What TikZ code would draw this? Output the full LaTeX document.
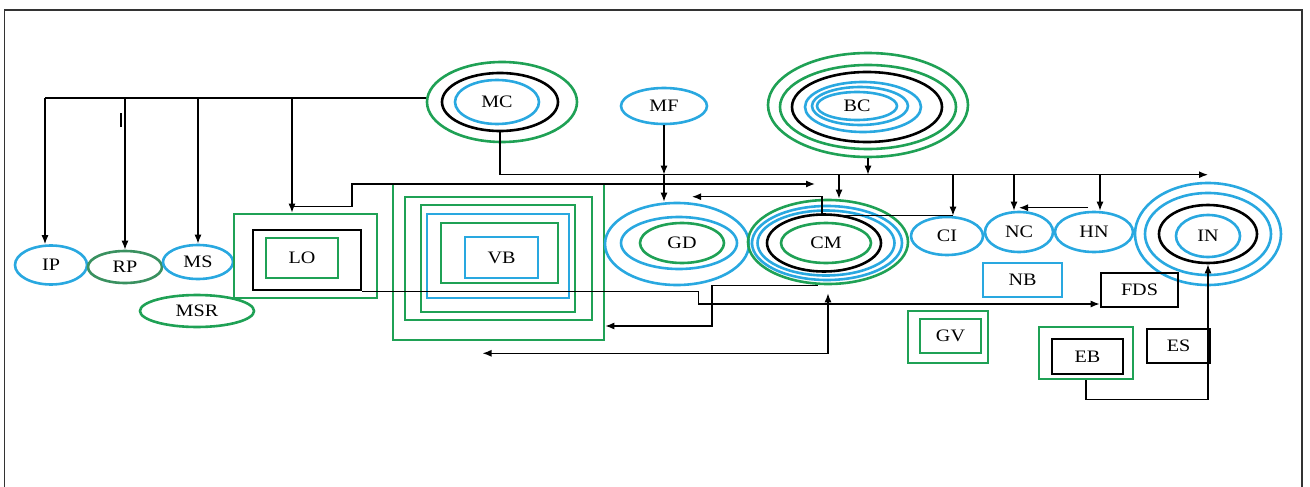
\documentclass[tikz,border=0pt]{standalone}
\usepackage{fontspec}
\setmainfont{Liberation Serif}[FakeStretch=1.15]
\usetikzlibrary{arrows.meta,shapes.geometric}
\definecolor{Sky}{HTML}{29A8E0}
\definecolor{Leaf}{HTML}{1FA155}
\definecolor{Moss}{HTML}{3A9160}
\definecolor{Frame}{HTML}{333333}

\begin{document}
\begin{tikzpicture}[x=1pt, y=-1pt, >=Latex,
    oval/.style={ellipse, draw=#1, line width=2.6pt, inner sep=0pt, font=\fontsize{17.5}{20}\selectfont},
    box/.style={rectangle, draw=#1, line width=2.6pt, inner sep=0pt, font=\fontsize{17.5}{20}\selectfont},
    wire/.style={line width=1.3pt},
    link/.style={line width=1.3pt, -{Latex[length=9pt,width=7pt]}},
    pair/.style={line width=1.3pt, {Latex[length=9pt,width=7pt]}-{Latex[length=9pt,width=7pt]}}]
    \useasboundingbox (0,0) rectangle (1310,487);
    \draw[line width=1.4pt, draw=Frame] (4.5,487) -- (4.5,10) -- (1302,10) -- (1302,487);

    \node[oval=Sky, minimum width=72pt, minimum height=39pt] (ip) at (51,265) {IP};
    \node[oval=Moss, minimum width=74pt, minimum height=32pt] (rp) at (125,267) {RP};
    \node[oval=Sky, minimum width=70pt, minimum height=34pt] (ms) at (198,262) {MS};
    \node[oval=Leaf, minimum width=114pt, minimum height=32pt] (msr) at (197,311) {MSR};

    \node[box=Leaf, minimum width=143pt, minimum height=84pt] (lo-3) at (305.5,256) {};
    \node[box=black, minimum width=108pt, minimum height=60pt] (lo-2) at (307,260) {};
    \node[box=Leaf, minimum width=72pt, minimum height=40pt] (lo) at (302,258) {LO};

    \node[box=Leaf, minimum width=211pt, minimum height=156pt] (vb-6) at (498.5,262) {};
    \node[box=Leaf, minimum width=187pt, minimum height=123pt] (vb-5) at (498.5,258.5) {};
    \node[box=Leaf, minimum width=154pt, minimum height=107pt] (vb-4) at (498,258.5) {};
    \node[box=Sky, minimum width=142pt, minimum height=84pt] (vb-3) at (498,256) {};
    \node[box=Leaf, minimum width=117pt, minimum height=60pt] (vb-2) at (499.5,253) {};
    \node[box=Sky, minimum width=73pt, minimum height=41pt] (vb) at (501.5,257.5) {VB};

    \node[oval=Leaf, minimum width=150pt, minimum height=80pt] (mc-3) at (502,102) {};
    \node[oval=black, minimum width=116pt, minimum height=58pt] (mc-2) at (500,102) {};
    \node[oval=Sky, minimum width=84pt, minimum height=44pt] (mc) at (497,102) {MC};

    \node[oval=Sky, minimum width=86pt, minimum height=36pt] (mf) at (664,106) {MF};

    \node[oval=Sky, minimum width=144pt, minimum height=82pt] (gd-3) at (677,244) {};
    \node[oval=Sky, minimum width=116pt, minimum height=52pt] (gd-2) at (679,243) {};
    \node[oval=Leaf, minimum width=84pt, minimum height=40pt] (gd) at (682,243) {GD};

    \node[oval=Leaf, minimum width=200pt, minimum height=104pt] (bc-6) at (868,105) {};
    \node[oval=Leaf, minimum width=176pt, minimum height=84pt] (bc-5) at (868,107) {};
    \node[oval=black, minimum width=150pt, minimum height=70pt] (bc-4) at (867,107) {};
    \node[oval=Sky, minimum width=116pt, minimum height=50pt] (bc-3) at (863,107) {};
    \node[oval=Sky, minimum width=96pt, minimum height=38pt] (bc-2) at (860,106) {};
    \node[oval=Sky, minimum width=80pt, minimum height=28pt] (bc) at (857,106) {BC};

    \node[oval=Leaf, minimum width=160pt, minimum height=84pt] (cm-5) at (828,242) {};
    \node[oval=Sky, minimum width=150pt, minimum height=74pt] (cm-4) at (827,243) {};
    \node[oval=Sky, minimum width=137pt, minimum height=65pt] (cm-3) at (826,243) {};
    \node[oval=black, minimum width=114pt, minimum height=57pt] (cm-2) at (824,243) {};
    \node[oval=Leaf, minimum width=90pt, minimum height=40pt] (cm) at (826,243) {CM};

    \node[oval=Sky, minimum width=72pt, minimum height=38pt] (ci) at (947,236) {CI};
    \node[oval=Sky, minimum width=68pt, minimum height=40pt] (nc) at (1019,232) {NC};
    \node[oval=Sky, minimum width=78pt, minimum height=40pt] (hn) at (1094,232) {HN};

    \node[oval=Sky, minimum width=146pt, minimum height=102pt] (in-4) at (1208,234) {};
    \node[oval=Sky, minimum width=126pt, minimum height=82pt] (in-3) at (1208,234) {};
    \node[oval=black, minimum width=98pt, minimum height=58pt] (in-2) at (1208,234) {};
    \node[oval=Sky, minimum width=64pt, minimum height=42pt] (inn) at (1208,236) {IN};

    \node[box=Sky, minimum width=79pt, minimum height=34pt] (nb) at (1022.5,280) {NB};
    \node[box=black, minimum width=77pt, minimum height=34pt] (fds) at (1139.5,290) {FDS};
    \node[box=Leaf, minimum width=80pt, minimum height=52pt] (gv-2) at (948,337) {};
    \node[box=Leaf, minimum width=61pt, minimum height=34pt] (gv) at (950.5,336) {GV};
    \node[box=Leaf, minimum width=94pt, minimum height=52pt] (eb-2) at (1086,353) {};
    \node[box=black, minimum width=71pt, minimum height=35pt] (eb) at (1087.5,356.5) {EB};
    \node[box=black, minimum width=63pt, minimum height=34pt] (es) at (1178.5,346) {ES};

    \coordinate (bus-w) at (45,98);
    \coordinate (trunk-e) at ([yshift=7pt]in-4.north);
    \coordinate (lo-end) at (815,184);
    \coordinate (lo-in) at ([xshift=-13.5pt]lo-3.north);
    \coordinate (cm-in) at ([xshift=11pt]cm-5.north);
    \coordinate (ci-in) at ([xshift=6pt]ci.north);
    \coordinate (nc-in) at ([xshift=-5pt]nc.north);
    \coordinate (hn-in) at ([xshift=6pt]hn.north);

    \draw[wire] (mc-3.west |- bus-w) -- (bus-w);
    \draw[link] (bus-w) -- (bus-w |- ip.north);
    \draw[link] (rp.north |- bus-w) -- (rp.north);
    \draw[link] (ms.north |- bus-w) -- (ms.north);
    \draw[link] (lo-in |- bus-w) -- (lo-in);
    \draw[line width=2.8pt] (121,113) -- (121,127);

    \draw[link] (mc-2.south) |- (trunk-e);
    \draw[link] (bc-6.south) -- (bc-6.south |- trunk-e);
    \draw[link] (mf.south) -- (mf.south |- trunk-e);
    \draw[link] (mf.south |- trunk-e) -- (mf.south |- gd-3.north);
    \foreach \t in {cm-in, ci-in, nc-in, hn-in}
      \draw[link] (\t |- trunk-e) -- (\t);
    \draw[link] ([xshift=-6pt,yshift=3pt]hn.north) -- ([yshift=3pt]nc.north);

    \draw[link] ([yshift=6pt]lo-in) -- ++(60,0) |- (lo-end);
    \draw[link] (ci-in) -- ++(-131,0) |- ([xshift=15pt,yshift=5pt]gd-3.north);
    \draw[link] (lo-2.south east) -- ++(336,0) |- ([yshift=-14pt]fds.west);
    \draw[link] ([xshift=-10pt]cm-5.south) -- ++(-106,0) |- ([yshift=-64pt]vb-6.east);
    \draw[pair] ([xshift=-16pt,yshift=-12pt]vb-6.south) -| ([yshift=-8pt]cm-5.south);
    \draw[link] (eb-2.south) -- ++(0,19) -| (in-2.south);
  \end{tikzpicture}
\end{document}
